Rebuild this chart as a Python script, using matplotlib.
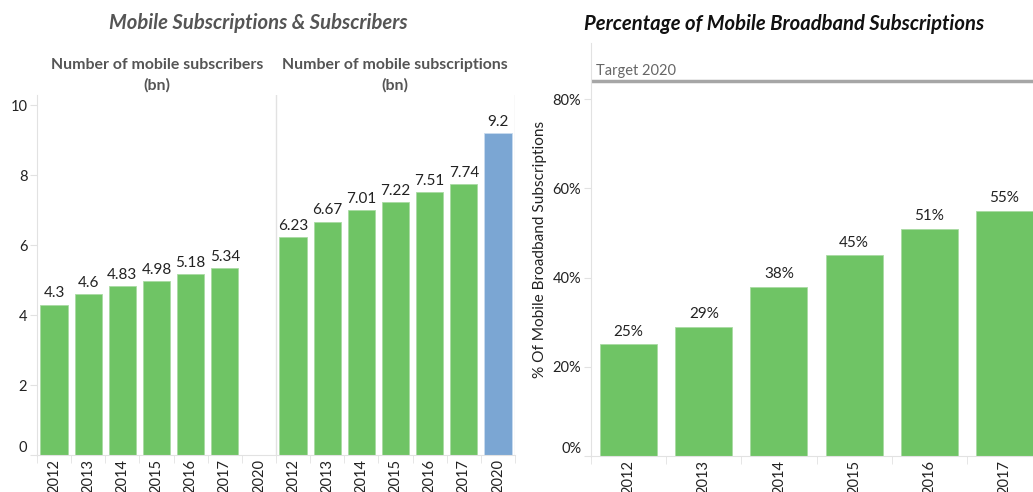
# Mobile subscriptions / subscribers + mobile broadband share (two panels)
import numpy as np
import matplotlib
matplotlib.use("Agg")
import matplotlib.pyplot as plt

plt.rcParams["font.family"] = ["Lato", "DejaVu Sans"]

# --- data ---
years = ["2012", "2013", "2014", "2015", "2016", "2017", "2020"]
subscribers_bn = [4.3, 4.6, 4.83, 4.98, 5.18, 5.34, None]
subscriptions_bn = [6.23, 6.67, 7.01, 7.22, 7.51, 7.74, 9.2]
sub_colors = ["green"] * 6 + ["blue"]

bb_years = ["2012", "2013", "2014", "2015", "2016", "2017"]
bb_share = [25, 29, 38, 45, 51, 55]
target_2020 = 84

GREEN = "#6fc465"
BLUE = "#7ba6d3"
GRID = "#e2e2e2"
TXT = "#222222"
colors = {"green": GREEN, "blue": BLUE}

W, H = 1033, 492
fig = plt.figure(figsize=(W / 100, H / 100), dpi=100)


def px_axes(x0, x1, ytop, ybot):
    return fig.add_axes([x0 / W, 1 - ybot / H, (x1 - x0) / W, (ybot - ytop) / H])


def style(ax):
    for s in ["top", "right"]:
        ax.spines[s].set_visible(False)
    for s in ["left", "bottom"]:
        ax.spines[s].set_color(GRID)
    ax.tick_params(axis="y", color=GRID, length=5, labelsize=10.5, labelcolor=TXT, pad=2)
    ax.tick_params(axis="x", which="major", length=0, labelsize=10.5, labelcolor=TXT,
                   rotation=90, pad=3)
    ax.tick_params(axis="x", which="minor", color=GRID, length=6)
    # zero label sits just above the baseline, like the original
    ax.get_yticklabels()[0].set_va("bottom")


# ---------- left panel ----------
ax1 = px_axes(37, 515, 95, 455)
n = len(years)
x_left = np.arange(n)
x_right = np.arange(n) + n
for i, v in enumerate(subscribers_bn):
    if v is None:
        continue
    ax1.bar(x_left[i], v, width=0.8, color=GREEN, edgecolor="#a9dba3", linewidth=0.6)
    ax1.text(x_left[i], v + 0.12, f"{v:g}", ha="center", va="bottom", fontsize=11, color=TXT)
for i, v in enumerate(subscriptions_bn):
    c = colors[sub_colors[i]]
    ax1.bar(x_right[i], v, width=0.8, color=c, edgecolor="#c8dbee" if c == BLUE else "#a9dba3",
            linewidth=0.6)
    ax1.text(x_right[i], v + 0.12, f"{v:g}", ha="center", va="bottom", fontsize=11, color=TXT)

ax1.set_xlim(-0.5, 2 * n - 0.5)
ax1.set_ylim(0, 10.29)
ax1.set_yticks([0, 2, 4, 6, 8, 10])
ax1.set_xticks(np.concatenate([x_left, x_right]))
ax1.set_xticklabels(years + years)
ax1.set_xticks(np.arange(-0.5, 2 * n, 1.0), minor=True)
ax1.axvline(n - 0.5, color=GRID, lw=1)
ax1.axvline(2 * n - 0.5, color=GRID, lw=1)
style(ax1)

fig.text(258 / W, 1 - 23 / H, "Mobile Subscriptions & Subscribers", ha="center", va="center",
         fontsize=14.6, fontweight="bold", fontstyle="italic", color="#555555")
fig.text(157 / W, 1 - 75 / H, "Number of mobile subscribers\n(bn)", ha="center", va="center",
         fontsize=11.4, fontweight="bold", color="#555555", linespacing=1.55)
fig.text(395 / W, 1 - 75 / H, "Number of mobile subscriptions\n(bn)", ha="center", va="center",
         fontsize=11.4, fontweight="bold", color="#555555", linespacing=1.55)

# ---------- right panel ----------
ax2 = px_axes(591, 1033, 43, 456)
xb = np.arange(len(bb_years))
ax2.bar(xb, bb_share, width=0.76, color=GREEN, edgecolor="#a9dba3", linewidth=0.6)
for x, v in zip(xb, bb_share):
    ax2.text(x, v + 1.3, f"{v}%", ha="center", va="bottom", fontsize=11, color=TXT)
ax2.set_xlim(-0.5, 5.38)
ax2.set_ylim(0, 92.6)
ax2.set_yticks([0, 20, 40, 60, 80])
ax2.set_yticklabels([f"{t}%" for t in [0, 20, 40, 60, 80]])
ax2.set_xticks(xb)
ax2.set_xticklabels(bb_years)
ax2.set_xticks(np.arange(-0.5, 5.5, 1.0), minor=True)
ax2.axhline(target_2020, color="#a6a6a6", lw=2.5)
ax2.text(0.012, target_2020 + 0.8, "Target 2020", transform=ax2.get_yaxis_transform(),
         ha="left", va="bottom", fontsize=10.5, color="#666666")
ax2.set_ylabel("% Of Mobile Broadband Subscriptions", fontsize=11.1, color=TXT, labelpad=4)
style(ax2)

fig.text(784 / W, 1 - 24 / H, "Percentage of Mobile Broadband Subscriptions", ha="center",
         va="center", fontsize=14.6, fontweight="bold", fontstyle="italic", color="#111111")

fig.savefig("out.png", dpi=100, facecolor="white")
